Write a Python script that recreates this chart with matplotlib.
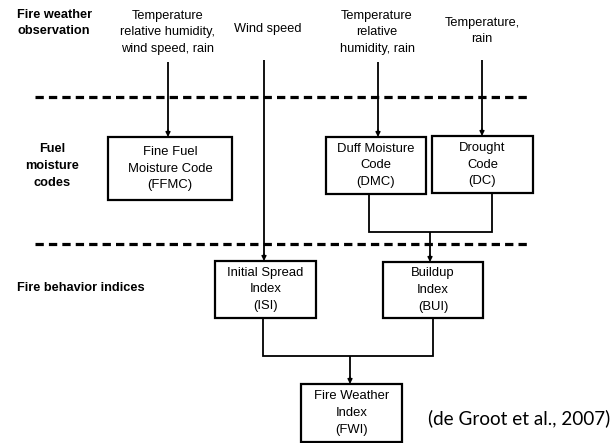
import matplotlib.pyplot as plt
from matplotlib.patches import Rectangle, FancyArrowPatch

# Contenu du diagramme
header_labels = ["Temperature\nrelative humidity,\nwind speed, rain",
                 "Wind speed",
                 "Temperature\nrelative\nhumidity, rain",
                 "Temperature,\nrain"]
row_labels = ["Fire weather\nobservation", "Fuel\nmoisture\ncodes", "Fire behavior indices"]
box_names = ["FFMC", "DMC", "DC", "ISI", "BUI", "FWI"]
box_labels = ["Fine Fuel\nMoisture Code\n(FFMC)",
              "Duff Moisture\nCode\n(DMC)",
              "Drought\nCode\n(DC)",
              "Initial Spread\nIndex\n(ISI)",
              "Buildup\nIndex\n(BUI)",
              "Fire Weather\nIndex\n(FWI)"]
source_note = "(de Groot et al., 2007)"

# Position des boîtes en pixels (x0, y0, x1, y1)
box_pos = {"FFMC": (108, 137, 232, 200),
           "DMC": (326, 137, 426, 194),
           "DC": (432, 136, 533, 193),
           "ISI": (215, 261, 316, 318),
           "BUI": (383, 262, 483, 318),
           "FWI": (301, 384, 402, 442)}

W, H = 614, 443
fig = plt.figure(figsize=(W / 100, H / 100), dpi=100)
ax = fig.add_axes([0, 0, 1, 1])
ax.set_xlim(0, W)
ax.set_ylim(H, 0)
ax.axis("off")

font = "Liberation Sans"

def arrow(x, y0, y1):
    ax.plot([x, x], [y0, y1 - 4], color="black", lw=1.3, solid_capstyle="butt")
    ax.add_patch(FancyArrowPatch((x, y1 - 7), (x, y1), arrowstyle="-|>",
                                 mutation_scale=7, color="black", lw=1.0,
                                 shrinkA=0, shrinkB=0))

def line(xs, ys):
    ax.plot(xs, ys, color="black", lw=1.3, solid_joinstyle="miter")

# boîtes
for name, label in zip(box_names, box_labels):
    x0, y0, x1, y1 = box_pos[name]
    ax.add_patch(Rectangle((x0, y0), x1 - x0, y1 - y0, fill=False,
                           edgecolor="black", lw=1.6))
    ax.text((x0 + x1) / 2, (y0 + y1) / 2, label, ha="center", va="center",
            fontsize=9.4, family=font, linespacing=1.55)

# lignes pointillées
for yy in [97, 244]:
    ax.plot([35, 529], [yy, yy], color="black", lw=2.3, linestyle=(0, (2.6, 1.6)))

# textes d'en-tête
header_x = [168, 268, 377, 482]
header_y = [32, 29, 32, 31]
for lab, hx, hy in zip(header_labels, header_x, header_y):
    ax.text(hx, hy, lab, ha="center", va="center", fontsize=9.2, family=font,
            linespacing=1.5)

ax.text(17, 23, row_labels[0], ha="left", va="center", fontsize=9.2,
        family=font, fontweight="bold", linespacing=1.45)
ax.text(52, 166, row_labels[1], ha="center", va="center", fontsize=9.2,
        family=font, fontweight="bold", linespacing=1.55)
ax.text(17, 288, row_labels[2], ha="left", va="center", fontsize=9.2,
        family=font, fontweight="bold")

# flèches
arrow(168, 62, box_pos["FFMC"][1])
arrow(264, 60, box_pos["ISI"][1])
arrow(378, 62, box_pos["DMC"][1])
arrow(482, 60, box_pos["DC"][1])

line([369, 369, 492, 492], [194, 232, 232, 193])
arrow(430, 232, box_pos["BUI"][1])

line([263, 263, 433, 433], [318, 356, 356, 318])
arrow(350, 356, box_pos["FWI"][1])

ax.text(610, 418, source_note, ha="right", va="center", fontsize=13.6,
        family="Lato")

fig.savefig("out.png", dpi=100)
